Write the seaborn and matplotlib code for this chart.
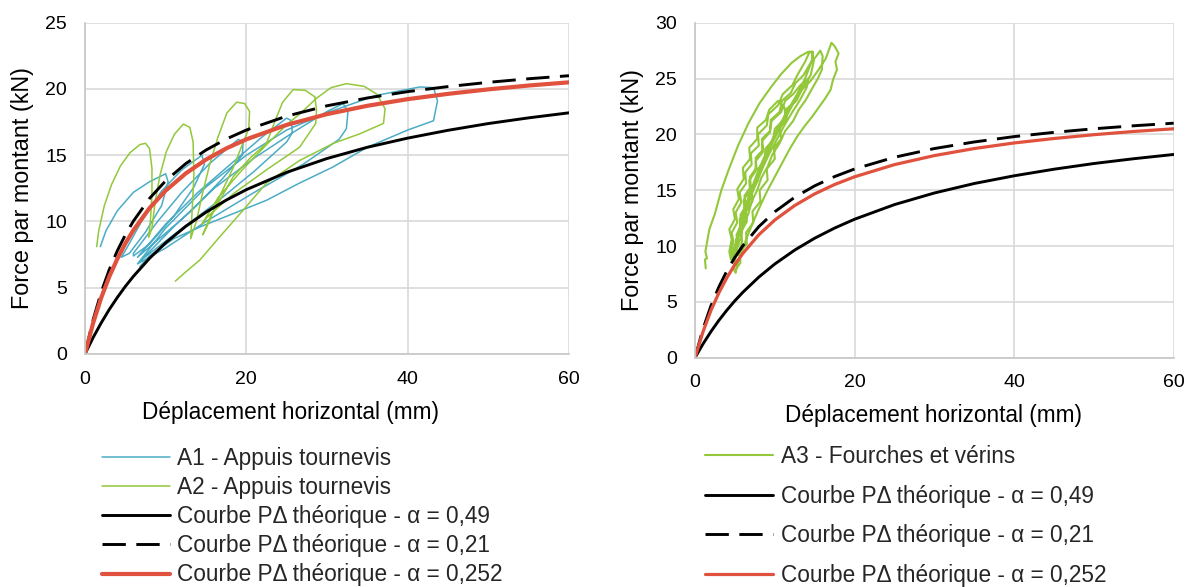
import numpy as np
import pandas as pd
import matplotlib
matplotlib.use("Agg")
import matplotlib.pyplot as plt
import seaborn as sns

# ---------------- data ----------------
# theoretical P-Delta curves
theo_disp = [0, 1, 2, 3, 4, 5, 6, 8, 10, 12.5, 15, 17.5, 20, 25, 30, 35, 40, 45, 50, 55, 60]
theo_049 = [0, 1.23, 2.34, 3.35, 4.26, 5.10, 5.86, 7.22, 8.39, 9.64, 10.70, 11.61, 12.40,
            13.71, 14.75, 15.60, 16.29, 16.88, 17.39, 17.82, 18.20]
theo_021 = [0, 2.57, 4.65, 6.35, 7.78, 8.99, 10.03, 11.74, 13.07, 14.37, 15.39, 16.22, 16.90,
            17.95, 18.73, 19.32, 19.80, 20.18, 20.50, 20.77, 21.00]
theo_0252 = [0, 2.32, 4.23, 5.82, 7.17, 8.34, 9.34, 11.01, 12.33, 13.63, 14.67, 15.51, 16.20,
             17.29, 18.10, 18.73, 19.23, 19.63, 19.97, 20.26, 20.50]

# A1 - Appuis tournevis (teal)
a1_disp = [1.9, 2.6, 4.0, 6.0, 8.0, 10.0, 10.3, 9.5, 7.5, 5.5, 4.5,
           5.0, 7.0, 9.5, 12.0, 14.5, 14.8, 13.5, 11.0, 8.0, 6.0,
           6.0, 9.0, 12.0, 15.5, 19.0, 19.6, 19.5, 17.0, 13.0, 9.0, 6.5,
           6.5, 10.0, 14.0, 18.0, 22.0, 25.0, 25.6, 25.7, 25.0, 21.0, 16.0, 11.0, 7.0,
           7.0, 11.0, 16.0, 21.0, 26.0, 30.0, 32.0, 32.6, 32.4, 31.5, 27.0, 21.0, 15.0, 10.0, 6.5,
           6.5, 10.0, 15.0, 20.0, 25.0, 30.0, 36.0, 41.5, 43.2, 43.7, 43.2, 40.0, 35.0, 30.7,
           26.6, 22.5, 18.4, 14.3, 11.0, 8.0, 6.8]
a1_force = [8.1, 9.3, 10.8, 12.2, 13.0, 13.6, 13.0, 11.2, 9.2, 7.6, 7.3,
            7.8, 10.0, 12.3, 13.9, 15.0, 14.3, 12.6, 10.4, 8.3, 7.4,
            7.6, 10.0, 12.2, 14.4, 16.2, 16.0, 15.0, 13.2, 10.7, 8.6, 7.3,
            7.3, 9.8, 12.2, 14.3, 16.4, 17.8, 17.6, 16.7, 16.0, 13.8, 11.3, 9.0, 7.1,
            7.1, 9.6, 12.5, 14.8, 16.8, 18.3, 18.9, 18.3, 17.0, 16.2, 14.3, 12.2, 10.0, 8.0, 6.8,
            6.8, 9.5, 12.6, 15.0, 16.9, 18.2, 19.5, 20.15, 20.1, 19.1, 17.6, 16.9, 15.6, 14.1,
            12.9, 11.6, 10.6, 9.6, 8.7, 7.4, 6.6]

# A2 - Appuis tournevis (green)
a2_disp = [1.45, 1.7, 2.4, 3.3, 4.4, 5.6, 6.8, 7.5, 8.0, 8.3, 8.3, 8.1, 7.9,
           8.3, 8.7, 9.3, 10.1, 11.1, 12.2, 13.0, 13.4, 13.5, 13.3, 13.1,
           13.8, 14.6, 15.5, 16.5, 17.6, 18.8, 19.8, 20.4, 20.3, 19.5, 18.4, 16.7, 15.1, 14.6,
           15.5, 17.0, 18.4, 20.5, 22.5, 23.5, 24.5, 25.8, 27.3, 28.5, 28.7, 28.6, 26.6, 22.5,
           18.4, 15.1, 14.5,
           16.5, 19.5, 22.5, 25.0, 26.6, 28.7, 30.5, 32.4, 34.6, 36.2, 37.2, 37.0,
           34.0, 30.8, 26.6, 22.5, 19.6, 16.7, 14.25, 12.5, 11.2]
a2_force = [8.1, 9.3, 11.2, 12.8, 14.2, 15.2, 15.8, 15.9, 15.5, 14.0, 12.0, 10.0, 8.8,
            9.5, 11.5, 13.5, 15.3, 16.6, 17.35, 17.1, 16.0, 13.5, 11.0, 8.7,
            10.0, 12.2, 14.4, 16.4, 18.2, 19.0, 18.9, 18.3, 17.0, 15.8, 14.1, 11.9, 9.6, 9.0,
            10.3, 11.9, 13.4, 14.8, 15.9, 17.5, 19.0, 19.95, 19.9, 19.4, 18.4, 17.4, 15.6, 13.9,
            12.1, 10.3, 9.8,
            11.8, 13.9, 15.8, 17.3, 18.1, 19.3, 20.1, 20.4, 20.2, 19.6, 18.5, 17.4,
            16.6, 15.9, 14.6, 12.9, 10.85, 8.84, 7.1, 6.2, 5.5]

# A3 - Fourches et vérins (green)
a3_disp = [1.35, 1.25, 1.5, 1.3, 1.8, 2.5, 3.3, 4.2, 5.4, 6.7, 8.1, 9.6, 10.8, 12.1, 13.2, 14.2, 14.8,
           14.6, 13.8, 12.8, 11.5, 10.2, 9.0, 7.8, 6.8, 5.9, 5.2, 4.7,
           4.9, 5.4, 5.2, 5.9, 5.7, 6.4, 6.2, 7.0, 6.9, 7.7, 7.6, 8.5, 8.4, 9.4, 9.5, 10.6, 10.9, 12.0,
           12.6, 13.6, 14.4, 15.2, 15.7,
           16.0, 15.9, 15.4, 14.6, 13.9, 13.0, 12.3, 11.3, 10.6, 9.7, 9.1, 8.3, 7.8, 7.1, 6.7, 6.0,
           5.7, 5.2, 5.0,
           4.5, 4.8, 4.6, 5.3, 5.1, 5.8, 5.6, 6.4, 6.3, 7.1, 7.0, 8.0, 7.9, 9.0, 9.2, 10.4, 11.0, 12.2,
           12.9, 13.8, 14.3, 14.6,
           14.9, 14.5, 13.5, 12.5, 11.6, 10.7, 9.8, 9.0, 8.3, 7.6, 7.0, 6.4, 5.9, 5.4, 5.0, 4.6,
           5.4, 5.9, 5.8, 6.5, 6.4, 7.2, 7.1, 7.9, 7.9, 8.8, 8.8, 9.8, 10.0, 11.1, 11.5, 12.7, 13.4,
           14.5, 15.5, 16.4, 17.1, 17.5, 18.0, 17.6, 17.8, 17.3,
           17.0, 16.3, 15.5, 14.7, 13.7, 12.8, 11.8, 10.9, 10.0, 9.1, 8.3, 7.5, 6.8, 6.2, 5.7, 5.3, 5.1,
           4.8, 5.3, 5.1, 5.7, 5.6, 6.2, 6.1, 6.9, 6.8, 7.6, 7.6, 8.5, 8.4, 9.4, 9.6, 10.8, 11.3,
           12.3, 13.2, 14.2,
           14.0, 13.1, 12.2, 11.2, 10.3, 9.4, 8.6, 7.9, 7.2, 6.6, 6.1, 5.6, 5.1, 4.7, 4.5,
           4.3, 4.6, 4.3, 5.0, 4.8, 5.5, 5.3, 6.1, 6.0, 6.9, 6.8, 7.8, 7.8, 8.9, 9.3, 10.4,
           11.2, 11.5, 10.6, 10.8, 9.9, 10.0, 9.0, 9.1, 8.1, 8.2, 7.2, 7.3, 6.4, 6.5, 5.6, 5.7, 5.2]
a3_force = [8.0, 8.8, 8.9, 9.5, 11.5, 12.9, 15.0, 16.8, 19.0, 21.0, 22.8, 24.3, 25.4, 26.4, 27.0, 27.4, 27.4,
            26.5, 25.0, 23.6, 22.0, 20.3, 18.5, 16.5, 14.6, 12.5, 10.5, 9.2,
            9.0, 10.3, 11.0, 12.0, 12.8, 13.6, 14.5, 15.3, 16.2, 17.0, 17.9, 18.6, 19.6, 20.3, 21.3, 22.0,
            23.0, 23.7, 24.6, 25.3, 26.3, 27.0, 27.5,
            27.0, 25.8, 25.0, 24.0, 23.1, 22.2, 21.2, 20.3, 19.2, 18.2, 17.1, 16.1, 15.0, 14.0, 12.9,
            11.8, 10.7, 9.6, 8.9,
            9.3, 10.4, 11.2, 12.1, 13.0, 13.9, 14.8, 15.6, 16.6, 17.3, 18.3, 19.0, 20.0, 20.8, 21.8, 22.6,
            23.6, 24.4, 25.4, 26.5, 27.3, 27.4,
            26.6, 25.3, 24.2, 23.0, 21.8, 20.6, 19.4, 18.2, 17.0, 15.8, 14.6, 13.4, 12.2, 11.0, 9.9, 8.9,
            9.2, 10.4, 11.3, 12.2, 13.1, 14.0, 15.0, 15.9, 16.9, 17.7, 18.7, 19.5, 20.5, 21.3, 22.3, 23.0,
            24.0, 24.8, 25.8, 26.8, 28.2, 27.9, 27.25, 26.5, 25.8, 24.9,
            24.0, 23.2, 22.4, 21.6, 20.7, 19.8, 18.6, 17.4, 16.2, 15.0, 13.8, 12.5, 11.3, 10.2, 9.2, 8.4, 7.6,
            8.0, 9.6, 10.5, 11.5, 12.4, 13.3, 14.1, 15.0, 15.9, 16.7, 17.6, 18.4, 19.4, 20.2, 21.2, 22.0,
            23.0, 23.6, 24.4, 25.0,
            24.2, 23.0, 22.0, 20.8, 19.6, 18.4, 17.2, 16.0, 14.8, 13.6, 12.4, 11.2, 10.0, 9.0, 8.8,
            9.5, 10.6, 11.5, 12.4, 13.3, 14.2, 15.1, 16.0, 17.0, 17.8, 18.8, 19.6, 20.6, 21.3, 22.2, 23.0,
            22.4, 21.4, 20.6, 19.6, 18.8, 17.8, 16.9, 15.9, 15.0, 14.0, 13.1, 12.1, 11.2, 10.2, 9.4, 8.5, 8.0]

lab_a1 = "A1 - Appuis tournevis"
lab_a2 = "A2 - Appuis tournevis"
lab_a3 = "A3 - Fourches et vérins"
lab_049 = "Courbe PΔ théorique - α = 0,49"
lab_021 = "Courbe PΔ théorique - α = 0,21"
lab_0252 = "Courbe PΔ théorique - α = 0,252"
x_label = "Déplacement horizontal (mm)"
y_label = "Force par montant (kN)"

# ---------------- style ----------------
sns.set_theme(style="white")
plt.rcParams['font.family'] = ['Liberation Sans', 'DejaVu Sans']

TEAL = "#4BACC6"
GREEN = "#92C83A"
RED = "#E0523E"
GRID = "#D9D9D9"

df_theo = pd.DataFrame({"d": theo_disp, "f049": theo_049, "f021": theo_021, "f0252": theo_0252})
df_a1 = pd.DataFrame({"d": a1_disp, "f": a1_force})
df_a2 = pd.DataFrame({"d": a2_disp, "f": a2_force})
df_a3 = pd.DataFrame({"d": a3_disp, "f": a3_force})

fig = plt.figure(figsize=(11.88, 5.87), dpi=100)
ax1 = fig.add_axes([85 / 1188, 1 - 354 / 587, 484 / 1188, (354 - 22.7) / 587])
ax2 = fig.add_axes([695 / 1188, 1 - 357.7 / 587, 478.7 / 1188, (357.7 - 22.7) / 587])


def draw_theo(ax, red_lw):
    sns.lineplot(data=df_theo, x="d", y="f049", ax=ax, color="black", lw=2.1, label=lab_049,
                 estimator=None, sort=False)
    sns.lineplot(data=df_theo, x="d", y="f021", ax=ax, color="black", lw=2.1, label=lab_021,
                 estimator=None, sort=False)
    ax.lines[-1].set_dashes([8, 3.6])
    sns.lineplot(data=df_theo, x="d", y="f0252", ax=ax, color=RED, lw=red_lw, label=lab_0252,
                 estimator=None, sort=False)


# left panel
sns.lineplot(data=df_a1, x="d", y="f", ax=ax1, color=TEAL, lw=1.1, label=lab_a1, estimator=None, sort=False)
sns.lineplot(data=df_a2, x="d", y="f", ax=ax1, color=GREEN, lw=1.1, label=lab_a2, estimator=None, sort=False)
draw_theo(ax1, 3.0)

# right panel
sns.lineplot(data=df_a3, x="d", y="f", ax=ax2, color=GREEN, lw=1.5, label=lab_a3, estimator=None, sort=False)
draw_theo(ax2, 2.3)

for ax, ymax, xl_x, xl_y, yl_x in ((ax1, 25, 0.4236, -0.142, -0.105),
                                   (ax2, 30, 0.499, -0.138, -0.1065)):
    ax.set_xlim(0, 60)
    ax.set_ylim(0, ymax)
    ax.set_xticks([0, 20, 40, 60])
    ax.set_yticks(np.arange(0, ymax + 1, 5))
    ax.grid(True, color=GRID, lw=1.2)
    ax.set_axisbelow(True)
    for s in ax.spines.values():
        s.set_visible(False)
    ax.spines['left'].set_visible(True)
    ax.spines['bottom'].set_visible(True)
    ax.spines['left'].set_color("#C8C8C8")
    ax.spines['bottom'].set_color("#C8C8C8")
    ax.tick_params(axis='x', length=0, labelsize=14, colors="black", pad=12)
    ax.tick_params(axis='y', length=0, labelsize=14, colors="black", pad=13)
    ax.set_xlabel(x_label, fontsize=16.3, color="black")
    ax.set_ylabel(y_label, fontsize=16.8, color="black")
    ax.xaxis.set_label_coords(xl_x, xl_y)
    ax.yaxis.set_label_coords(yl_x, 0.5)
    ax.get_legend().remove()

h1, l1 = ax1.get_legend_handles_labels()
fig.legend(h1, l1, loc="upper left", bbox_to_anchor=(102 / 1188, 1 - 447 / 587), frameon=False,
           fontsize=16.3, handlelength=3.0, handletextpad=0.3, labelspacing=0.27, borderpad=0,
           borderaxespad=0)
h2, l2 = ax2.get_legend_handles_labels()
fig.legend(h2, l2, loc="upper left", bbox_to_anchor=(705 / 1188, 1 - 445 / 587), frameon=False,
           fontsize=16.3, handlelength=3.0, handletextpad=0.35, labelspacing=0.735, borderpad=0,
           borderaxespad=0)

fig.savefig("out.png", dpi=100)
